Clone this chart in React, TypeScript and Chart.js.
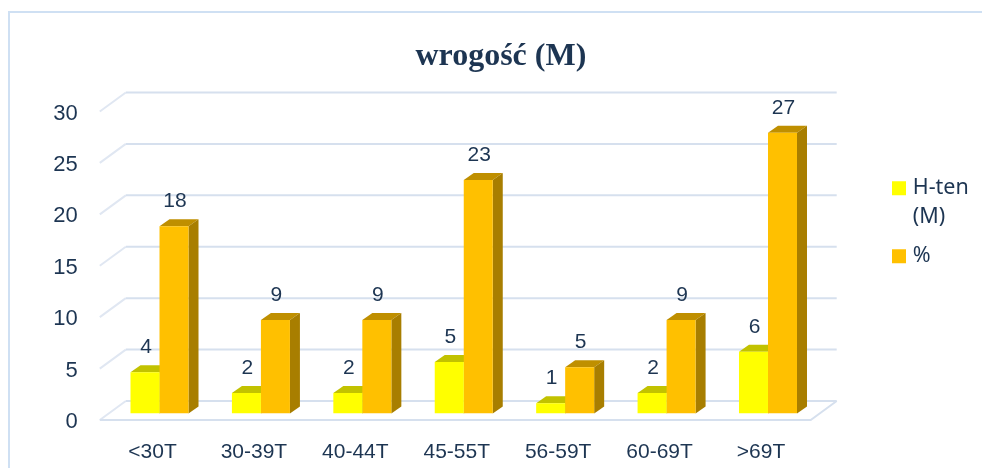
import React, { useEffect, useRef } from "react";
import { Chart, registerables } from "chart.js";

Chart.register(...registerables);

const categories = ["<30T", "30-39T", "40-44T", "45-55T", "56-59T", "60-69T", ">69T"];
const countValues = [4, 2, 2, 5, 1, 2, 6];
const percentValues = [18.2, 9.1, 9.1, 22.7, 4.5, 9.1, 27.3];
const seriesNames = ["H-ten (M)", "%"];
const titleText = "wrogość (M)";

const INK = "#1d3552";
const SANS = "'Liberation Sans', Arial, sans-serif";
const faces = [
  { front: "#FFFF00", top: "#C2C200", side: "#A8A800" },
  { front: "#FFC000", top: "#BF8F00", side: "#A87E00" },
];

const depthPlugin = {
  id: "depth",
  beforeDatasetsDraw(chart: any) {
    const { ctx, chartArea, scales } = chart;
    const y = scales.y;
    const { left, right } = chartArea;
    ctx.save();
    ctx.lineWidth = 2;
    for (const t of y.ticks) {
      const p = y.getPixelForValue(t.value);
      ctx.strokeStyle = "#e0e7f2";
      ctx.beginPath();
      ctx.moveTo(left - 9, p + 6.5);
      ctx.lineTo(left + 17, p - 12.5);
      ctx.stroke();
      ctx.strokeStyle = "#d6e0ee";
      ctx.beginPath();
      ctx.moveTo(left + 17, p - 12.5);
      ctx.lineTo(right + 18, p - 12.5);
      ctx.stroke();
    }
    const p0 = y.getPixelForValue(0);
    ctx.strokeStyle = "#d6e0ee";
    ctx.beginPath();
    ctx.moveTo(left - 9, p0 + 6.5);
    ctx.lineTo(right - 8, p0 + 6.5);
    ctx.lineTo(right + 18, p0 - 12.5);
    ctx.stroke();

    chart.data.datasets.forEach((_: any, i: number) => {
      chart.getDatasetMeta(i).data.forEach((bar: any) => {
        const l = bar.x - bar.width / 2;
        const r = bar.x + bar.width / 2;
        ctx.fillStyle = faces[i].top;
        ctx.beginPath();
        ctx.moveTo(l, bar.y);
        ctx.lineTo(l + 10, bar.y - 7);
        ctx.lineTo(r + 10, bar.y - 7);
        ctx.lineTo(r, bar.y);
        ctx.closePath();
        ctx.fill();
        ctx.fillStyle = faces[i].side;
        ctx.beginPath();
        ctx.moveTo(r, bar.y);
        ctx.lineTo(r + 10, bar.y - 7);
        ctx.lineTo(r + 10, bar.base - 7);
        ctx.lineTo(r, bar.base);
        ctx.closePath();
        ctx.fill();
      });
    });
    ctx.restore();
  },
  afterDatasetsDraw(chart: any) {
    const { ctx } = chart;
    ctx.save();
    ctx.fillStyle = INK;
    ctx.font = `21px ${SANS}`;
    ctx.textAlign = "center";
    ctx.textBaseline = "middle";
    chart.data.datasets.forEach((ds: any, i: number) => {
      chart.getDatasetMeta(i).data.forEach((bar: any, j: number) => {
        ctx.fillText(String(Math.round(ds.data[j])), bar.x + 1, bar.y - 25);
      });
    });
    ctx.restore();
  },
  afterLayout(chart: any) {
    const lg = chart.legend;
    lg.left = 886;
    lg.right = lg.left + lg.width;
    lg.top = 167.5;
    lg.bottom = lg.top + lg.height;
    chart.titleBlock.left += 183;
  },
};

export default function App() {
  const ref = useRef<HTMLCanvasElement>(null);
  useEffect(() => {
    const chart = new Chart(ref.current as HTMLCanvasElement, {
      type: "bar",
      data: {
        labels: categories,
        datasets: [
          { label: seriesNames[0], data: countValues, backgroundColor: faces[0].front },
          { label: seriesNames[1], data: percentValues, backgroundColor: faces[1].front },
        ],
      },
      options: {
        responsive: false,
        animation: false,
        layout: { padding: { left: 0, right: 163.3, top: 0, bottom: 0 } },
        datasets: { bar: { categoryPercentage: 0.572, barPercentage: 1 } },
        scales: {
          x: {
            grid: { display: false },
            border: { display: false },
            afterFit: (s: any) => { s.height = 54.5; },
            ticks: {
              color: INK,
              font: { family: SANS, size: 21 },
              padding: 18.5,
              labelOffset: -7,
              maxRotation: 0,
              autoSkip: false,
            },
          },
          y: {
            min: 0,
            max: 30,
            grid: { display: false },
            border: { display: false },
            afterFit: (s: any) => { s.width = 108.8; },
            ticks: {
              stepSize: 5,
              color: INK,
              font: { family: SANS, size: 22 },
              padding: 23,
              labelOffset: 8.5,
            },
          },
        },
        plugins: {
          tooltip: { enabled: false },
          title: {
            display: true,
            text: titleText,
            color: INK,
            font: { family: "'Liberation Serif', serif", size: 32, weight: "bold" },
            padding: { top: 37.8, bottom: 28.8 },
          },
          legend: {
            position: "chartArea",
            align: "start",
            labels: {
              color: INK,
              boxWidth: 6,
              boxHeight: 6,
              padding: 10,
              font: { family: "'Noto Sans', sans-serif", size: 21.5, lineHeight: 1.35 },
              generateLabels: (c: any) =>
                c.data.datasets.map((ds: any, i: number) => ({
                  text: ds.label.includes(" ") ? ds.label.split(" ") : ds.label,
                  fillStyle: ds.backgroundColor,
                  strokeStyle: ds.backgroundColor,
                  lineWidth: 8,
                  lineJoin: "miter",
                  fontColor: INK,
                  datasetIndex: i,
                  hidden: false,
                })),
            },
          },
        },
      } as any,
      plugins: [depthPlugin as any],
    });
    return () => chart.destroy();
  }, []);
  return (
    <div style={{ position: "absolute", left: 0, top: 0, width: 982, height: 468, overflow: "hidden", background: "#fff" }}>
      <div style={{ position: "absolute", left: 8, top: 11, width: 990, height: 480, border: "2px solid #cfe0f3", boxSizing: "border-box" }} />
      <canvas ref={ref} width={982} height={468} style={{ position: "absolute", left: 0, top: 0 }} />
    </div>
  );
}
